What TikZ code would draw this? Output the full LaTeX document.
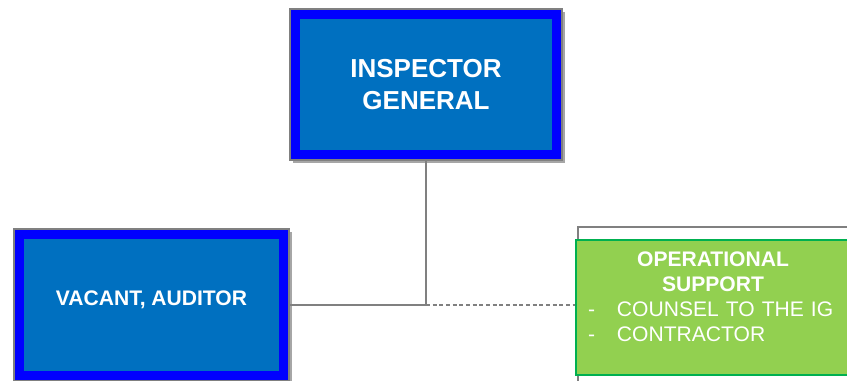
\documentclass[tikz,border=0pt]{standalone}
\usepackage{fontspec}
\setmainfont{Liberation Sans}
\usepackage{xcolor}
\usetikzlibrary{shadows,positioning}

\definecolor{igfill}{HTML}{0070C0}
\definecolor{igband}{HTML}{0000FF}
\definecolor{opsfill}{HTML}{92D050}
\definecolor{opsline}{HTML}{00B050}
\definecolor{linegray}{HTML}{808080}

\begin{document}
\begin{tikzpicture}[x=0.75pt,y=-0.75pt,
    bluebox/.style={rectangle, fill=igfill, draw=linegray, line width=1.5pt,
        text=white, font=\bfseries, align=center,
        drop shadow={shadow xshift=2.5pt, shadow yshift=-2.5pt, fill=black, opacity=.35},
        path picture={\draw[igband, line width=15pt]
            (path picture bounding box.north west) rectangle (path picture bounding box.south east);}},
    conn/.style={draw=linegray, line width=1.3pt}]
    \clip (0,0) rectangle (847,381);
    \fill[white] (0,0) rectangle (847,381);

    \node (ig) [bluebox, minimum width=204pt, minimum height=113.25pt,
        font=\fontsize{19.5}{23.5}\selectfont\bfseries] at (426,84.5)
        {INSPECTOR\\GENERAL};
    \node (vacant) [bluebox, minimum width=206.25pt, minimum height=114pt, text depth=10.5pt,
        font=\fontsize{15.8}{19}\selectfont\bfseries] at (151.5,305)
        {VACANT, AUDITOR};

    \node (opsback) [rectangle, draw=linegray, line width=1.5pt, minimum width=225pt,
        minimum height=135pt] at (728,317) {};
    \node (ops) [rectangle, fill=opsfill, draw=opsline, line width=2pt,
        minimum width=207pt, minimum height=101.25pt] at (714,307.5) {};
    \node (opstext) [anchor=north, text=white, inner sep=0pt, text width=187.5pt, align=left,
        font=\fontsize{15.8}{18.75}\selectfont] at (713,252)
        {{\centering\bfseries OPERATIONAL\\SUPPORT\par}%
         \makebox[21.75pt][l]{-}COUNSEL TO THE IG\\
         \makebox[21.75pt][l]{-}CONTRACTOR};

    \coordinate (junction) at (426,305);
    \draw [conn] (ig.south) -- (junction);
    \draw [conn] (vacant.east) -- (junction);
    \draw [conn, dash pattern=on 3pt off 2pt] (junction) -- (junction -| ops.west);
\end{tikzpicture}
\end{document}
